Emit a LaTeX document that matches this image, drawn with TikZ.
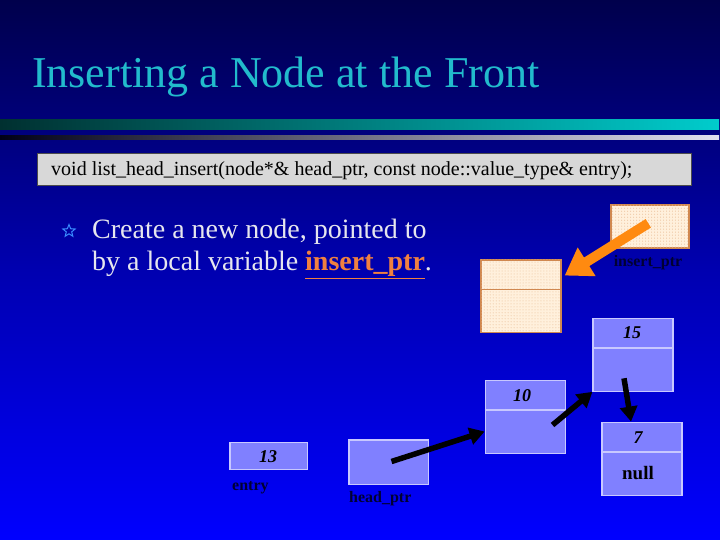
\documentclass[tikz,border=0pt]{standalone}
\usepackage{fontspec}
\setmainfont{Liberation Serif}
\usetikzlibrary{arrows.meta,shapes.geometric,patterns,calc}
\definecolor{bgtop}{HTML}{00004C}
\definecolor{bgmid}{HTML}{0000B0}
\definecolor{bgbot}{HTML}{0000FF}
\definecolor{titlecyan}{HTML}{22BBCC}
\definecolor{barA1}{HTML}{003030}
\definecolor{barA2}{HTML}{00CCCC}
\definecolor{barB1}{HTML}{000018}
\definecolor{barB2}{HTML}{E0E0F0}
\definecolor{codegray}{HTML}{D8D8D8}
\definecolor{bullettext}{HTML}{E6E6EE}
\definecolor{starblue}{HTML}{3A8CFF}
\definecolor{varorange}{HTML}{F08040}
\definecolor{arroworange}{HTML}{FF8A10}
\definecolor{peach}{HTML}{FFF0DC}
\definecolor{peachdot}{HTML}{E8B890}
\definecolor{peachborder}{HTML}{D08850}
\definecolor{nodefill}{HTML}{8080FF}
\definecolor{nodeborder}{HTML}{C8C8FF}
\definecolor{labeldark}{HTML}{000033}
\tikzset{
  listnode/.style={draw=nodeborder, fill=nodefill, line width=1.2bp, inner sep=0pt,
    minimum width=80bp, minimum height=73bp},
  newbox/.style={draw=peachborder, fill=peach, line width=1.2bp, inner sep=0pt,
    postaction={pattern=dots, pattern color=peachdot}},
  valtext/.style={font=\fontsize{18bp}{20bp}\selectfont\bfseries\itshape, text=black},
  nulltext/.style={font=\fontsize{19bp}{21bp}\selectfont\bfseries, text=black},
  vartext/.style={font=\fontsize{16bp}{18bp}\selectfont\bfseries, text=labeldark, inner sep=0pt},
  bullettxt/.style={anchor=base west, inner sep=0pt, text=bullettext, font=\fontsize{28bp}{32bp}\selectfont},
  blackarrow/.style={line width=5.5bp, black, -{Triangle[length=15bp,width=17bp]}, shorten >=0pt},
  orangearrow/.style={line width=10bp, arroworange, -{Triangle[length=26bp,width=32bp]}},
}
\begin{document}
\begin{tikzpicture}[x=1bp,y=-1bp]
\useasboundingbox (0,0) rectangle (720,540);
% background
\shade[top color=bgtop, bottom color=bgbot, middle color=bgmid] (0,0) rectangle (720,540);
% title
\node[anchor=base west, inner sep=0pt, text=titlecyan, font=\fontsize{44bp}{48bp}\selectfont] (title) at (32,88) {Inserting a Node at the Front};
% bars
\shade[left color=barA1, right color=barA2] (0,120) rectangle (719,129.5);
\shade[left color=barB1, right color=barB2] (0,135.5) rectangle (719,139.5);
% code box
\node[draw=black!70, fill=codegray, line width=0.8bp, minimum width=654bp, minimum height=32bp, inner sep=0pt] (codebox) at (364,169) {};
\node[anchor=base west, inner sep=0pt, font=\fontsize{20bp}{22bp}\selectfont, text=black] (code) at (51,176) {void list\_head\_insert(node*\& head\_ptr, const node::value\_type\& entry);};
% bullet
\node[star, star points=5, star point ratio=2.3, draw=starblue, line width=1bp, minimum size=13bp, inner sep=0pt] (star) at (69,231) {};
\node[bullettxt] (bullet1) at (92,239) {Create a new node, pointed to};
\node[bullettxt] (bullet2) at (92,271) {by a local variable \textcolor{varorange}{\bfseries\underline{insert\_ptr}}.};
% insert_ptr box and new node
\node[newbox, minimum width=78bp, minimum height=43bp] (ip) at (650,226.5) {};
\node[vartext, anchor=base] (iplabel) at (648,267) {insert\_ptr};
\node[newbox, minimum width=80bp, minimum height=72.5bp] (nn) at (521,296.2) {};
\draw[peachborder, line width=1.2bp] ($(nn.north west)!0.41!(nn.south west)$) -- ($(nn.north east)!0.41!(nn.south east)$);
% list nodes
\node[listnode] (n15) at (633,354.7) {};
\draw[nodeborder, line width=1.2bp] ($(n15.north west)!0.41!(n15.south west)$) -- ($(n15.north east)!0.41!(n15.south east)$);
\node[valtext] (v15) at (632,333) {15};
\node[listnode] (n10) at (525.2,416.7) {};
\draw[nodeborder, line width=1.2bp] ($(n10.north west)!0.41!(n10.south west)$) -- ($(n10.north east)!0.41!(n10.south east)$);
\node[valtext] (v10) at (522,395.5) {10};
\node[listnode] (n7) at (642,458.7) {};
\draw[nodeborder, line width=1.2bp] ($(n7.north west)!0.41!(n7.south west)$) -- ($(n7.north east)!0.41!(n7.south east)$);
\node[valtext] (v7) at (638,437.5) {7};
\node[nulltext] (vnull) at (638,473) {null};
% entry and head_ptr
\node[draw=nodeborder, fill=nodefill, line width=1.2bp, minimum width=77.7bp, minimum height=27bp, inner sep=0pt] (entry) at (268.8,455.8) {};
\node[valtext] (v13) at (268,456.5) {13};
\node[vartext, anchor=base west] (entrylabel) at (232,490) {entry};
\node[draw=nodeborder, fill=nodefill, line width=1.2bp, minimum width=79.7bp, minimum height=44.3bp, inner sep=0pt] (hp) at (388.8,462.2) {};
\node[vartext, anchor=base west] (hplabel) at (349,502) {head\_ptr};
% connectors
\coordinate (hpstart) at (391.5,461.5);
\coordinate (n10start) at (552.5,425);
\coordinate (n15start) at (624,378.3);
\coordinate (ipstart) at (648.3,223.3);
\draw[blackarrow] (hpstart) -- ($(n10.north west)!0.7!(n10.south west)$);
\draw[blackarrow] (n10start) -- (n15.south west);
\draw[blackarrow] (n15start) -- ($(n7.north west)!0.365!(n7.north east)$);
\draw[orangearrow] (ipstart) -- ($(nn.north east)!0.22!(nn.south east)+(3,0)$);
\end{tikzpicture}
\end{document}
